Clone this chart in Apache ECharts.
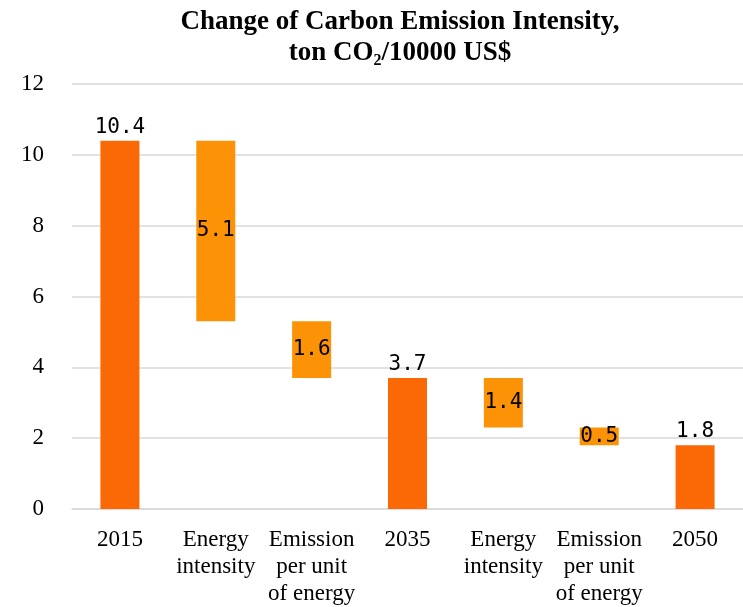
<!DOCTYPE html>
<html>
<head>
<meta charset="utf-8">
<script src="https://cdn.jsdelivr.net/npm/echarts@6/dist/echarts.min.js"></script>
<style>
  html, body { margin: 0; padding: 0; background: #fff; }
  #chart { width: 743px; height: 607px; }
</style>
</head>
<body>
<div id="chart"></div>
<script>
// Carbon emission intensity waterfall: 2015 -> 2035 -> 2050
const categories = [
  '2015',
  'Energy\nintensity',
  'Emission\nper unit\nof energy',
  '2035',
  'Energy\nintensity',
  'Emission\nper unit\nof energy',
  '2050'
];
// Level bars (absolute values at each milestone year)
const levels = [10.4, null, null, 3.7, null, null, 1.8];
// Reductions contributed by each factor
const reductions = [null, 5.1, 1.6, null, 1.4, 0.5, null];
const yTicks = [0, 2, 4, 6, 8, 10, 12];

// Invisible offset so each reduction floats between the levels it connects
const offsets = [];
let running = 0;
for (let i = 0; i < categories.length; i++) {
  if (levels[i] != null) {
    running = levels[i];
    offsets.push('-');
  } else {
    running = +(running - reductions[i]).toFixed(2);
    offsets.push(running);
  }
}

const levelColor = '#FA6905';
const changeColor = '#FC9205';
const fmt = p => (p.value == null || p.value === '-') ? '' : Number(p.value).toFixed(1);

const chart = echarts.init(document.getElementById('chart'), null, { renderer: 'canvas' });
chart.setOption({
  animation: false,
  backgroundColor: '#ffffff',
  title: {
    text: '{t|Change of Carbon Emission Intensity,}\n{t|ton CO}{s|2}{t|/10000 US$}',
    left: 395,
    textAlign: 'center',
    top: 2,
    textStyle: {
      rich: {
        t: { fontFamily: 'Liberation Serif', fontWeight: 'bold', fontSize: 27, lineHeight: 31, color: '#000' },
        s: { fontFamily: 'Liberation Serif', fontWeight: 'bold', fontSize: 16, lineHeight: 16, verticalAlign: 'bottom', color: '#000' }
      }
    }
  },
  grid: { left: 72, top: 84, width: 678, bottom: 97, containLabel: false },
  xAxis: {
    type: 'category',
    data: categories,
    axisLine: { show: true, lineStyle: { color: '#d9d9d9', width: 1.5 } },
    axisTick: { show: false },
    axisLabel: {
      interval: 0,
      margin: 17,
      fontFamily: 'Liberation Serif',
      fontSize: 23,
      lineHeight: 27,
      color: '#000'
    }
  },
  yAxis: {
    type: 'value',
    min: 0,
    max: yTicks[yTicks.length - 1],
    interval: yTicks[1] - yTicks[0],
    axisLine: { show: false },
    axisTick: { show: false },
    splitLine: { lineStyle: { color: '#d9d9d9', width: 1.5 } },
    axisLabel: {
      margin: 28,
      fontFamily: 'Liberation Serif',
      fontSize: 23,
      color: '#000'
    }
  },
  series: [
    {
      type: 'bar',
      stack: 'w',
      data: offsets,
      barWidth: 39,
      itemStyle: { color: 'transparent' },
      silent: true
    },
    {
      type: 'bar',
      stack: 'w',
      data: reductions.map(v => v == null ? '-' : v),
      barWidth: 39,
      itemStyle: { color: changeColor },
      label: {
        show: true,
        position: 'inside',
        formatter: fmt,
        fontFamily: 'DejaVu Sans Mono',
        fontSize: 21,
        color: '#000'
      }
    },
    {
      type: 'bar',
      stack: 'w',
      data: levels.map(v => v == null ? '-' : v),
      barWidth: 39,
      itemStyle: { color: levelColor },
      label: {
        show: true,
        position: 'top',
        distance: 3,
        formatter: fmt,
        fontFamily: 'DejaVu Sans Mono',
        fontSize: 21,
        color: '#000'
      }
    }
  ]
});
</script>
</body>
</html>
